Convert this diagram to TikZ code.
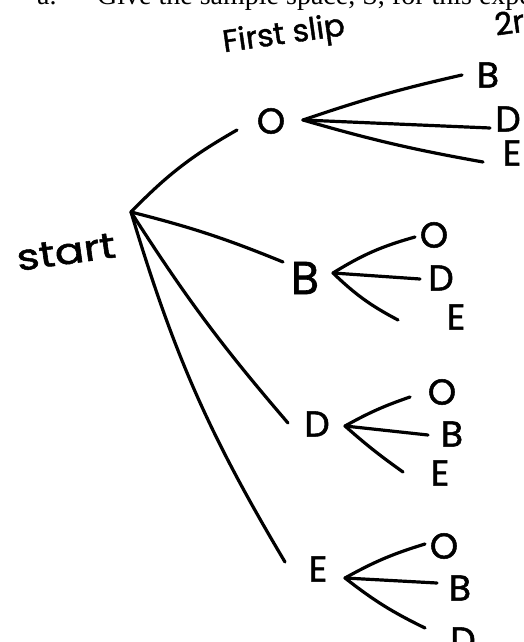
\documentclass[tikz,border=0pt]{standalone}
\usepackage{fontspec}
\setmainfont{Poppins}
\newfontfamily\hwfont{Poppins}[FakeBold=1.4]
\newfontfamily\printfont{Liberation Serif}
\begin{document}
\begin{tikzpicture}[x=1pt,y=-1pt,
  stroke/.style={line width=3.2pt, line cap=round, line join=round},
  hw/.style={font=\hwfont\fontsize{36}{36}\selectfont, inner sep=0pt},
  hwbig/.style={font=\hwfont\fontsize{46}{46}\selectfont, inner sep=0pt},
  head/.style={font=\hwfont\fontsize{31}{31}\selectfont, inner sep=0pt, rotate=8},
  printed/.style={font=\printfont\fontsize{28}{28}\selectfont, inner sep=0pt, anchor=base west},
  ]
\path[use as bounding box, clip] (0,0) rectangle (523,642);
\fill[white] (0,0) rectangle (523,642);

% printed question line, cut off at the top
\node[printed] (qa) at (37,5) {a.};
\node[printed] (qt) at (97,5) {Give the sample space, S, for this experiment.};

% headings
\node[head] (first) at (284,36) {First slip};
\node[head, anchor=west] (second) at (495,28) {2nd slip};

% root
\node[hw, rotate=8, xscale=1.2] (start) at (66,252) {start};
\coordinate (j0) at (131,212);

% first level
\coordinate (eO) at (237,130);
\node[hw] (O) at (271,121) {O};
\coordinate (jO) at (303,120);

\coordinate (eB) at (283,262);
\node[hwbig] (B) at (305,278) {B};
\coordinate (jB) at (333,273);

\coordinate (eD) at (288,423);
\node[hw] (D) at (317,424) {D};
\coordinate (jD) at (345,426);

\coordinate (eE) at (285,562);
\node[hw] (E) at (318,569) {E};
\coordinate (jE) at (345,578);

\draw[stroke] (j0) to[bend left=8] (eO);
\draw[stroke] (j0) to[bend left=4] (eB);
\draw[stroke] (j0) to[bend right=4] (eD);
\draw[stroke] (j0) to[bend right=7] (eE);

% second level: after O
\coordinate (oB) at (462,75);  \node[hw] (oBl) at (488,75) {B};
\coordinate (oD) at (490,128); \node[hw] (oDl) at (508,119) {D};
\coordinate (oE) at (483,162); \node[hw] (oEl) at (512,153) {E};
\draw[stroke] (jO) to[bend left=3] (oB);
\draw[stroke] (jO) -- (oD);
\draw[stroke] (jO) to[bend right=3] (oE);

% after B
\coordinate (bO) at (415,237); \node[hw] (bOl) at (434,235) {O};
\coordinate (bD) at (420,279); \node[hw] (bDl) at (441,278) {D};
\coordinate (bE) at (398,320); \node[hw] (bEl) at (456,317) {E};
\draw[stroke] (jB) to[bend left=8] (bO);
\draw[stroke] (jB) -- (bD);
\draw[stroke] (jB) to[bend right=8] (bE);

% after D
\coordinate (dO) at (410,397); \node[hw] (dOl) at (442,392) {O};
\coordinate (dB) at (428,435); \node[hw] (dBl) at (452,434) {B};
\coordinate (dE) at (403,472); \node[hw] (dEl) at (440,473) {E};
\draw[stroke] (jD) to[bend left=5] (dO);
\draw[stroke] (jD) -- (dB);
\draw[stroke] (jD) to[bend right=3] (dE);

% after E
\coordinate (fO) at (425,544); \node[hw] (fOl) at (444,546) {O};
\coordinate (fB) at (437,583); \node[hw] (fBl) at (460,588) {B};
\coordinate (fD) at (425,628); \node[hw] (fDl) at (463,640) {D};
\draw[stroke] (jE) to[bend left=6] (fO);
\draw[stroke] (jE) -- (fB);
\draw[stroke] (jE) to[bend right=6] (fD);
\end{tikzpicture}
\end{document}
